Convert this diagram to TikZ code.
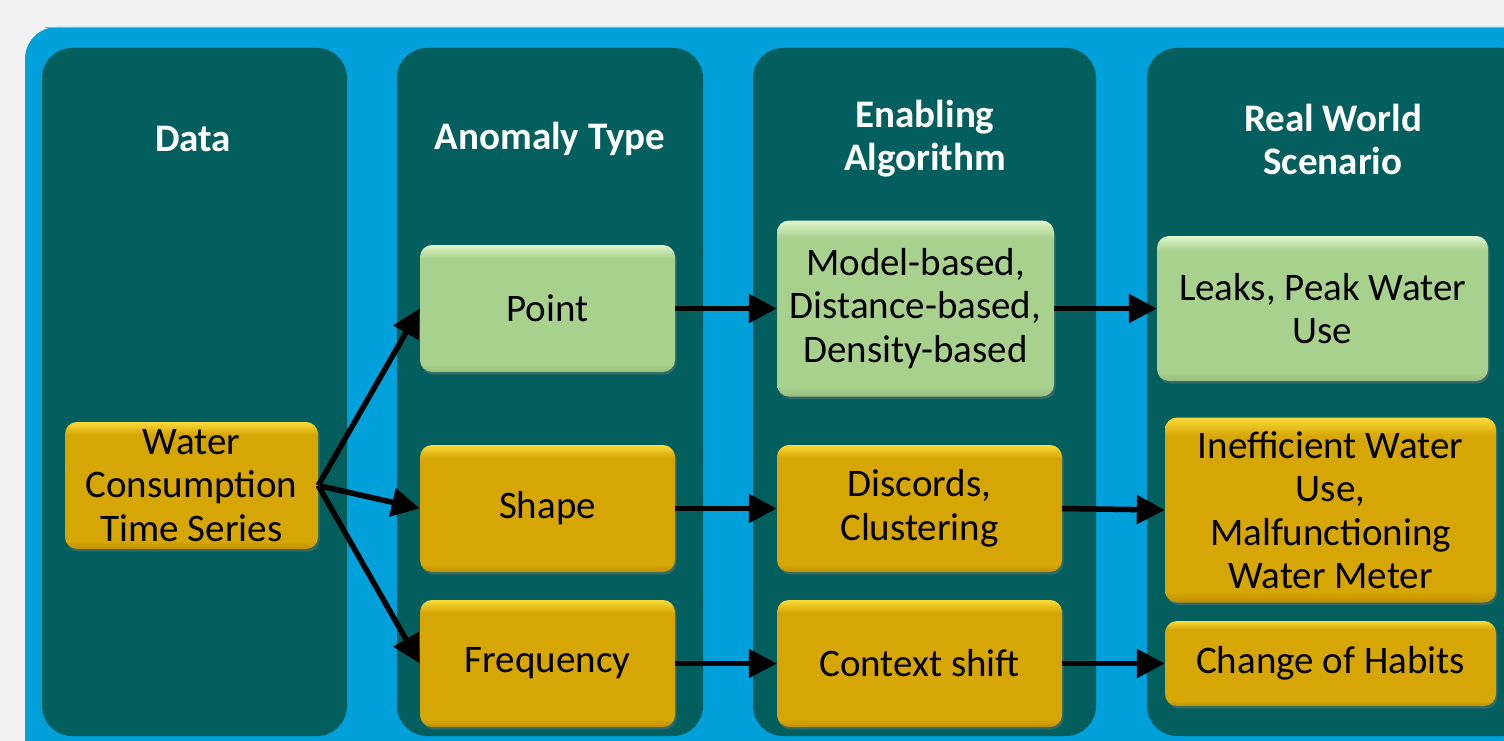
\documentclass[tikz,border=0pt]{standalone}
\usepackage{fontspec}
\setmainfont{Carlito}
\usetikzlibrary{arrows.meta,shadows}
\definecolor{bgc}{HTML}{F2F2F2}
\definecolor{blueb}{HTML}{00A0DA}
\definecolor{colteal}{HTML}{035F5E}
\definecolor{goldT}{HTML}{FADA3A}
\definecolor{goldM}{HTML}{D6A604}
\definecolor{goldB}{HTML}{BE9000}
\definecolor{greenT}{HTML}{E2F6CD}
\definecolor{greenM}{HTML}{A9D18E}
\definecolor{greenB}{HTML}{97BF7D}
\pgfdeclareverticalshading{goldbev}{100bp}{color(0bp)=(goldB); color(25bp)=(goldB); color(28bp)=(goldM); color(70bp)=(goldM); color(75bp)=(goldT); color(100bp)=(goldT)}
\pgfdeclareverticalshading{greenbev}{100bp}{color(0bp)=(greenB); color(25bp)=(greenB); color(28bp)=(greenM); color(70bp)=(greenM); color(75bp)=(greenT); color(100bp)=(greenT)}
\tikzset{
  colbox/.style={fill=colteal, rounded corners=30pt},
  title/.style={text=white, font=\bfseries\fontsize{39}{43}\selectfont, align=center},
  basebox/.style={rectangle, rounded corners=12pt, align=center, inner sep=0pt,
     font=\fontsize{39}{43.5}\selectfont, text=black,
     drop shadow={opacity=0.35, shadow xshift=1.5pt, shadow yshift=-2.5pt}},
  goldbox/.style={basebox, shading=goldbev},
  greenbox/.style={basebox, shading=greenbev},
  arr/.style={line width=5.5pt, -{Triangle[length=28pt,width=28pt]}},
}
\begin{document}
\begin{tikzpicture}[x=1pt,y=-1pt]
\useasboundingbox (0,0) rectangle (1504,741);
\fill[bgc] (0,0) rectangle (1504,741);
\begin{scope}
\clip (0,0) rectangle (1504,741);
\fill[blueb, rounded corners=32pt] (25,27) rectangle (1560,790);
\draw[gray!70, line width=1pt] (45,27.5) -- (1504,27.5);
\fill[colbox] (42,48) rectangle (347,736);
\fill[colbox] (397,48) rectangle (703,736);
\fill[colbox] (753,48) rectangle (1096,736);
\fill[colbox] (1147,48) rectangle (1530,736);
\end{scope}
\node[title] (t1) at (193,139) {Data};
\node[title] (t2) at (550,139) {Anomaly Type};
\node[title] (t3) at (925,139) {Enabling\\Algorithm};
\node[title] (t4) at (1333,139) {Real World\\Scenario};

\node[goldbox, minimum width=253pt, minimum height=127pt] (water) at (191.5,485.5) {Water\\Consumption\\Time Series};
\node[greenbox, minimum width=255pt, minimum height=127pt] (point) at (547.5,308.5) {Point};
\node[goldbox, minimum width=255pt, minimum height=127pt] (shape) at (547.5,508.5) {Shape};
\node[goldbox, minimum width=255pt, minimum height=127pt] (freq) at (547.5,663.5) {Frequency};
\node[greenbox, minimum width=277pt, minimum height=176pt] (model) at (915.5,308.5) {Model-based,\\Distance-based,\\Density-based};
\node[goldbox, minimum width=285pt, minimum height=127pt] (disc) at (919.5,508.5) {Discords,\\Clustering};
\node[goldbox, minimum width=285pt, minimum height=127pt] (ctx) at (919.5,663.5) {Context shift};
\node[greenbox, minimum width=331pt, minimum height=145pt] (leaks) at (1322.5,308.5) {Leaks, Peak Water\\Use};
\node[goldbox, minimum width=331pt, minimum height=185pt] (ineff) at (1330.5,510) {Inefficient Water\\Use,\\Malfunctioning\\Water Meter};
\node[goldbox, minimum width=331pt, minimum height=85pt] (habit) at (1330.5,663.5) {Change of Habits};

\draw[arr] (water.east) -- (point.west);
\draw[arr] (water.east) -- (shape.west);
\draw[arr] (water.east) -- (freq.west);
\draw[arr] (point.east) -- (model.west);
\draw[arr] (model.east) -- (leaks.west);
\draw[arr] (shape.east) -- (disc.west);
\draw[arr] (disc.east) -- (ineff.west);
\draw[arr] (freq.east) -- (ctx.west);
\draw[arr] (ctx.east) -- (habit.west);
\end{tikzpicture}
\end{document}
